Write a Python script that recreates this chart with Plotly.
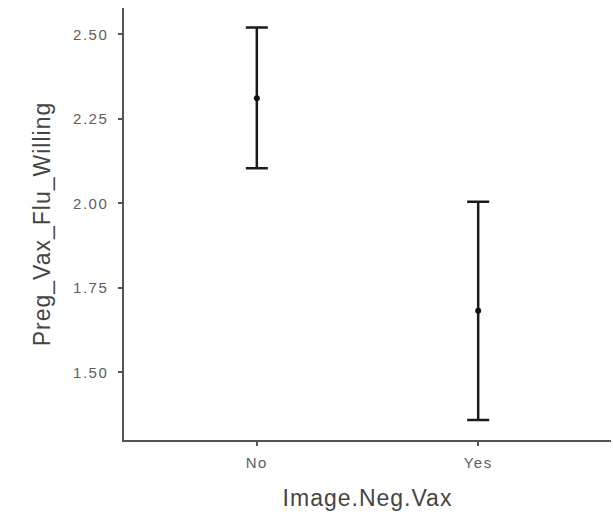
import plotly.graph_objects as go

categories = ["No", "Yes"]
means = [2.311, 1.682]
upper = [2.520, 2.005]
lower = [2.104, 1.359]
y_ticks = [1.50, 1.75, 2.00, 2.25, 2.50]
y_tick_labels = ["1.50", "1.75", "2.00", "2.25", "2.50"]

xpos = list(range(1, len(categories) + 1))
err_plus = [u - m for u, m in zip(upper, means)]
err_minus = [m - l for m, l in zip(means, lower)]


def spaced(s, px):
    return f'<span style="letter-spacing:{px}px">{s}</span>'


fig = go.Figure()
fig.add_trace(go.Scatter(
    x=xpos, y=means, mode="markers",
    marker=dict(color="#111111", size=6),
    error_y=dict(type="data", symmetric=False, array=err_plus, arrayminus=err_minus,
                 color="#1a1a1a", thickness=2.5, width=11),
    showlegend=False,
))

font_family = "Liberation Sans, Arial, sans-serif"
fig.update_layout(
    width=613, height=512,
    margin=dict(l=124, r=2, t=8, b=72),
    paper_bgcolor="white", plot_bgcolor="white",
    font=dict(family=font_family),
    xaxis=dict(
        range=[0.4, 2.6], tickvals=xpos, ticktext=[spaced(c, 1.5) for c in categories],
        showgrid=False, zeroline=False, showline=True, linecolor="#555555", linewidth=1.5,
        ticks="outside", ticklen=4, tickcolor="#555555", tickwidth=1.5,
        tickfont=dict(size=15, color="#5e5e5e"), ticklabelstandoff=4,
        title=dict(text=spaced("Image.Neg.Vax", 1), font=dict(size=23, color="#454545"), standoff=20),
    ),
    yaxis=dict(
        range=[1.30, 2.578], tickvals=y_ticks, ticktext=[spaced(t, 1.5) for t in y_tick_labels],
        showgrid=False, zeroline=False, showline=True, linecolor="#555555", linewidth=1.5,
        ticks="outside", ticklen=4, tickcolor="#555555", tickwidth=1.5,
        tickfont=dict(size=15, color="#5e5e5e"), ticklabelstandoff=7,
        title=dict(text=spaced("Preg_Vax_Flu_Willing", 1), font=dict(size=23, color="#454545"), standoff=16),
    ),
)

fig.write_html("out.html")
